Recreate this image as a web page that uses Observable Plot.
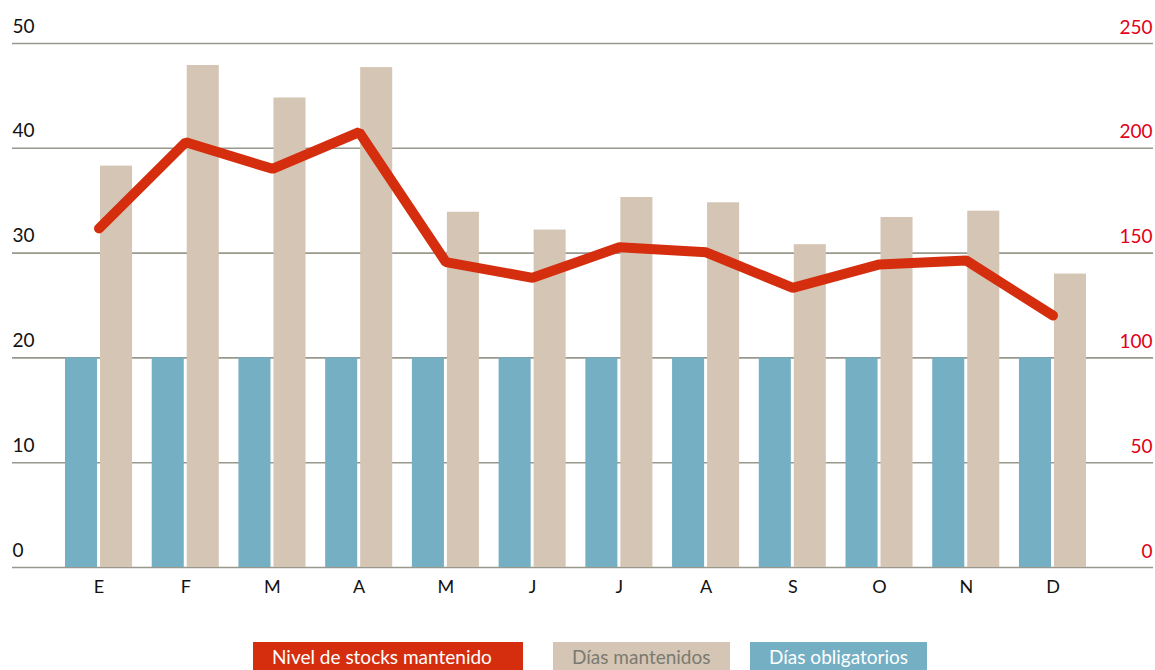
<!DOCTYPE html>
<html>
<head>
<meta charset="utf-8">
<script src="https://cdn.jsdelivr.net/npm/d3@7"></script>
<script src="https://cdn.jsdelivr.net/npm/@observablehq/plot@0.6"></script>
<style>
  html, body { margin: 0; padding: 0; background: #fff; }
  #chart { width: 1155px; }
  #legend { position: relative; height: 60px; margin-top: 32px; font-family: Lato, "Open Sans", sans-serif; font-size: 19px; }
  .lg { position: absolute; top: 0; height: 32px; line-height: 30px; box-sizing: border-box; padding: 0 19px; white-space: nowrap; }
</style>
</head>
<body>
<div id="chart"></div>
<div id="legend"></div>
<script>
// Data
const months = ["E","F","M","A","M","J","J","A","S","O","N","D"];
const diasObligatorios = [20,20,20,20,20,20,20,20,20,20,20,20];
const diasMantenidos = [38.3,47.9,44.8,47.7,33.9,32.2,35.3,34.8,30.8,33.4,34.0,28.0];
const nivelStocks = [161.7,202.9,190.2,207.7,145.7,138.2,152.8,150.4,133.4,144.6,146.5,120.2];
const leftTicks = [0,10,20,30,40,50];
const rightTicks = [0,50,100,150,200,250];
const legendItems = ["Nivel de stocks mantenido","Días mantenidos","Días obligatorios"];

const idx = d3.range(months.length);
const rows = idx.map(i => ({i, obl: diasObligatorios[i], man: diasMantenidos[i], stock: nivelStocks[i]}));
const ratio = 5; // right axis / left axis

const font = "Lato, 'Open Sans', sans-serif";

const chart = Plot.plot({
  width: 1155,
  height: 610,
  marginTop: 43,
  marginBottom: 43,
  marginLeft: 12,
  marginRight: 2,
  style: {fontFamily: font, background: "#fff"},
  x: {type: "band", domain: idx, range: [65, 1086], paddingInner: 0.227, paddingOuter: 0, align: 0.5, round: false},
  y: {domain: [0, 50], axis: null},
  marks: [
    Plot.ruleY(leftTicks, {stroke: "#98988c", strokeWidth: 1.6}),
    Plot.barY(rows, {x: "i", y: "obl", fill: "#74afc4", insetRight: 35}),
    Plot.barY(rows, {x: "i", y: "man", fill: "#d5c5b4", insetLeft: 35}),
    Plot.line(rows, {x: "i", y: d => d.stock / ratio, stroke: "#d52e0f", strokeWidth: 10, strokeLinecap: "round", strokeLinejoin: "miter"}),
    Plot.text(leftTicks, {y: d => d, text: d => String(d), frameAnchor: "left", textAnchor: "start", lineAnchor: "bottom", dy: -11, fontSize: 19, fill: "#111"}),
    Plot.text(rightTicks, {y: d => d / ratio, text: d => String(d), frameAnchor: "right", textAnchor: "end", lineAnchor: "bottom", dy: -10, dx: -1, fontSize: 19, fill: "#e2001a"}),
    Plot.axisX({tickSize: 0, tickPadding: 13, fontSize: 18, tickFormat: i => months[i], label: null, fill: "#111"})
  ]
});
document.getElementById("chart").appendChild(chart);

// Legend
const lg = document.getElementById("legend");
const styles = [
  {left: 253, width: 270, bg: "#d52e0f", color: "#fff"},
  {left: 553, width: 167, bg: "#d5c5b4", color: "#7a7a70"},
  {left: 750, width: 167, bg: "#74afc4", color: "#fff"}
];
legendItems.forEach((t, k) => {
  const d = document.createElement("div");
  d.className = "lg";
  d.textContent = t;
  d.style.left = styles[k].left + "px";
  d.style.minWidth = styles[k].width + "px";
  d.style.background = styles[k].bg;
  d.style.color = styles[k].color;
  lg.appendChild(d);
});
</script>
</body>
</html>
